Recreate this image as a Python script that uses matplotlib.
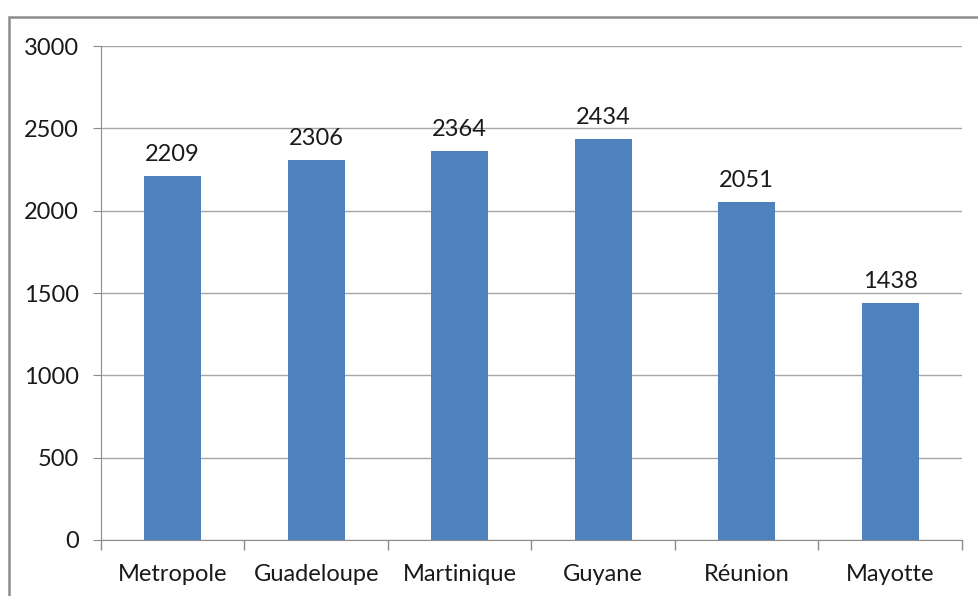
import matplotlib
matplotlib.use("Agg")
import matplotlib.pyplot as plt
from matplotlib.patches import Rectangle

categories = ["Metropole", "Guadeloupe", "Martinique", "Guyane", "Réunion", "Mayotte"]
values = [2209, 2306, 2364, 2434, 2051, 1438]
yticks = [0, 500, 1000, 1500, 2000, 2500, 3000]

plt.rcParams['font.family'] = ['Lato', 'DejaVu Sans']

fig = plt.figure(figsize=(9.79, 5.96), dpi=100)
fig.patch.set_facecolor('white')
# outer frame
fig.patches.append(Rectangle((9/979, -0.1), 1.2, 0.1 + (1 - 17/596), transform=fig.transFigure,
                             fill=False, edgecolor='#8c8c8c', linewidth=1.8, zorder=0))

ax = fig.add_axes([101/979, 1 - 540/596, (962 - 101)/979, (540 - 46)/596])
x = list(range(len(categories)))
ax.bar(x, values, width=0.4, color='#4F81BD', zorder=3)
for xi, v in zip(x, values):
    ax.annotate(str(v), (xi, v), xytext=(0, 8), textcoords='offset points',
                ha='center', va='bottom', fontsize=17, color='#1a1a1a')

ax.set_xlim(-0.5, len(categories) - 0.5)
ax.set_ylim(0, 3000)
ax.set_yticks(yticks)
ax.set_yticklabels([str(t) for t in yticks], fontsize=17, color='#1a1a1a')
ax.set_xticks(x)
ax.set_xticklabels(categories, fontsize=17, color='#1a1a1a')
ax.tick_params(axis='x', length=0, pad=17)
ax.tick_params(axis='y', length=6, color='#8c8c8c', pad=10)
# category boundary ticks
ax.set_xticks([i - 0.5 for i in range(len(categories) + 1)], minor=True)
ax.tick_params(axis='x', which='minor', length=7, color='#8c8c8c', width=1)
ax.yaxis.grid(True, color='#a6a6a6', linewidth=1, zorder=0)
ax.set_axisbelow(True)
for s in ['top', 'right']:
    ax.spines[s].set_visible(False)
ax.spines['left'].set_color('#8c8c8c')
ax.spines['bottom'].set_color('#8c8c8c')

fig.savefig('out.png', dpi=100)
